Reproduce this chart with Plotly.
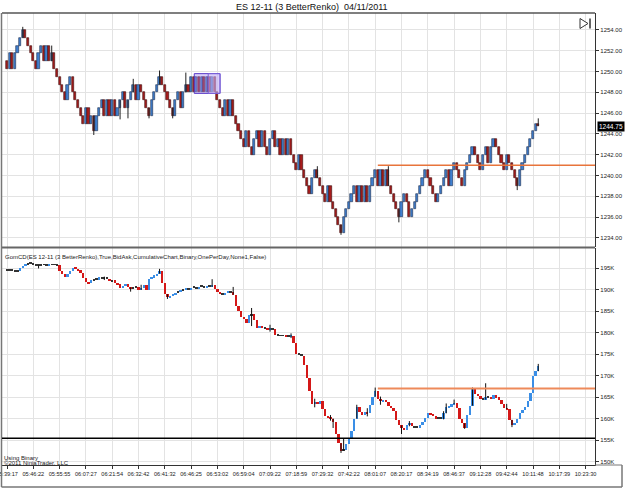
import plotly.graph_objects as go

W, H = 625, 488
FONT = "Liberation Sans, Arial, sans-serif"

# ---------------- data ----------------
time_labels = ["05:39:17", "05:46:22", "05:55:55", "06:07:27", "06:21:54", "06:32:42",
               "06:41:32", "06:46:25", "06:53:02", "06:59:04", "07:09:22", "07:18:59",
               "07:29:32", "07:42:22", "08:01:07", "08:20:17", "08:34:19", "08:46:37",
               "09:12:28", "09:42:44", "10:11:48", "10:17:39", "10:23:30"]
label_bars = [0, 10, 20, 30, 40, 50, 60, 70, 80, 90, 100, 110, 120, 130, 140, 150,
              160, 170, 180, 190, 200, 210, 220]

# ES 12-11 (3 BetterRenko) bar closes (open of each bar = previous close)
top_open0 = 1251.0
top_close = [
    1250.25, 1251.75, 1250.25, 1251.75, 1252.5, 1253.25, 1254.0, 1253.25, 1252.5, 1251.75,
    1251.0, 1250.25, 1251.75, 1252.5, 1251.0, 1252.5, 1251.0, 1251.75, 1250.25, 1249.5,
    1248.75, 1248.0, 1247.25, 1248.75, 1249.5, 1248.0, 1247.25, 1246.5, 1245.75, 1245.0,
    1246.5, 1245.0, 1245.75, 1244.25, 1245.75, 1246.5, 1247.25, 1245.75, 1247.25, 1245.75,
    1247.25, 1245.75, 1246.5, 1247.25, 1248.0, 1246.5, 1247.25, 1248.0, 1248.75, 1247.25,
    1248.75, 1248.0, 1247.25, 1246.5, 1245.75, 1247.25, 1248.0, 1248.75, 1249.5, 1248.75,
    1248.0, 1247.25, 1246.5, 1245.75, 1247.25, 1248.0, 1246.5, 1248.0, 1248.75, 1248.0,
    1249.5, 1248.0, 1249.5, 1248.0, 1249.5, 1248.0, 1249.5, 1248.0, 1249.5, 1248.0,
    1247.25, 1246.5, 1245.75, 1247.25, 1245.75, 1247.25, 1245.75, 1245.0, 1244.25, 1243.5,
    1242.75, 1244.25, 1242.75, 1242.0, 1243.5, 1244.25, 1242.75, 1244.25, 1242.75, 1242.0,
    1243.5, 1244.25, 1242.75, 1243.5, 1242.0, 1243.5, 1242.0, 1243.5, 1242.0, 1241.25,
    1240.5, 1242.0, 1240.5, 1239.75, 1239.0, 1238.25, 1239.75, 1240.5, 1239.75, 1239.0,
    1238.25, 1237.5, 1239.0, 1237.5, 1236.75, 1236.0, 1235.25, 1234.5, 1236.0, 1236.75,
    1237.5, 1238.25, 1239.0, 1237.5, 1239.0, 1237.5, 1239.0, 1237.5, 1239.0, 1239.75,
    1240.5, 1239.0, 1240.5, 1239.0, 1240.5, 1239.0, 1238.25, 1237.5, 1236.75, 1236.0,
    1237.5, 1238.25, 1237.5, 1236.0, 1236.75, 1237.5, 1238.25, 1239.0, 1239.75, 1240.5,
    1239.75, 1239.0, 1238.25, 1237.5, 1238.25, 1239.0, 1239.75, 1240.5, 1239.0, 1240.5,
    1241.25, 1240.5, 1239.75, 1239.0, 1240.5, 1241.25, 1242.0, 1242.75, 1242.0, 1241.25,
    1240.5, 1242.0, 1242.75, 1241.25, 1242.75, 1243.5, 1242.75, 1242.0, 1241.25, 1240.5,
    1242.0, 1241.25, 1240.5, 1239.75, 1239.0, 1240.5, 1241.25, 1242.0, 1242.75, 1243.5,
    1244.25, 1245.0, 1244.75]
top_wick_high = {6: 1254.3, 17: 1252.5, 48: 1249.3, 58: 1250.1, 68: 1249.9,
                 118: 1240.9, 145: 1240.9, 202: 1245.5}
top_wick_low = {33: 1243.9, 43: 1245.4, 46: 1245.5, 54: 1245.5, 63: 1245.5,
                127: 1234.3, 149: 1235.5, 194: 1238.6}

# GomCD cumulative delta closes, in thousands (open of each bar = previous close)
cd_open0 = 194.6
cd_close = [
    194.5, 194.6, 194.4, 194.3, 194.2, 195.0, 195.5, 195.9, 196.1, 196.0,
    195.8, 195.6, 195.5, 195.7, 195.8, 195.6, 195.9, 195.7, 195.8, 195.6,
    194.4, 193.5, 192.8, 193.6, 194.3, 195.1, 194.8, 194.5, 193.9, 192.7,
    191.8, 191.5, 192.2, 192.4, 192.3, 192.8, 192.6, 192.7, 192.5, 191.9,
    192.1, 191.6, 191.2, 190.3, 190.9, 191.2, 190.5, 190.2, 190.4, 190.6,
    190.0, 190.4, 191.0, 189.8, 192.4, 192.9, 193.3, 193.7, 194.2, 191.5,
    188.9, 188.2, 188.6, 188.9, 189.3, 189.5, 189.8, 189.9, 190.3, 190.1,
    190.4, 190.5, 190.3, 190.6, 190.7, 190.5, 190.8, 190.6, 191.0, 190.2,
    189.5, 189.0, 188.8, 189.2, 189.5, 189.4, 188.8, 186.2, 185.0, 183.5,
    183.2, 182.3, 184.0, 184.2, 183.0, 181.0, 181.5, 181.2, 181.0, 180.6,
    180.9, 180.7, 179.5, 179.3, 179.2, 179.4, 179.1, 179.0, 179.3, 177.5,
    175.0, 174.8, 174.6, 172.5, 169.5, 166.5, 163.3, 163.9, 163.6, 164.0,
    162.2, 160.6, 160.3, 160.0, 159.2, 156.5, 154.2, 152.5, 152.7, 154.0,
    155.5, 157.2, 160.0, 162.6, 161.6, 160.9, 161.6, 161.2, 163.2, 165.1,
    166.3, 164.6, 164.0, 164.4, 163.9, 162.8, 162.5, 161.8, 159.7, 158.4,
    157.8, 157.4, 158.4, 158.9, 158.2, 158.0, 157.9, 158.6, 159.1, 160.2,
    161.3, 161.0, 160.6, 160.0, 160.2, 160.0, 161.2, 162.6, 162.9, 163.3,
    163.6, 162.5, 160.0, 158.9, 157.9, 160.8, 163.0, 166.9, 165.8, 165.2,
    164.6, 164.4, 165.1, 165.0, 164.6, 165.4, 165.0, 164.2, 163.3, 162.5,
    162.2, 159.7, 158.4, 159.0, 159.8, 161.3, 162.0, 162.6, 164.0, 165.9,
    169.8, 171.0, 172.3]
cd_wick_high = {37: 193.0, 51: 191.1, 58: 194.8, 78: 192.4, 86: 190.6, 93: 185.7,
                100: 181.8, 108: 179.8, 117: 164.6, 123: 160.8, 128: 155.3, 133: 163.2,
                137: 162.4, 140: 167.2, 142: 165.1, 153: 159.4, 166: 161.7, 167: 163.5,
                170: 164.4, 177: 167.2, 182: 168.2, 190: 163.4, 202: 172.7}
cd_wick_low = {12: 194.9, 37: 192.2, 47: 189.5, 51: 189.9, 61: 187.8, 93: 181.5,
               100: 180.2, 108: 178.7, 117: 162.6, 123: 159.5, 124: 157.8, 127: 152.0,
               137: 160.5, 142: 163.2, 150: 156.4, 153: 158.2, 166: 159.8, 174: 157.6,
               192: 158.0}

top_ticks = [1234, 1236, 1238, 1240, 1242, 1244, 1246, 1248, 1250, 1252, 1254]
cd_ticks = [150, 155, 160, 165, 170, 175, 180, 185, 190, 195]

top_level = 1241.0        # orange horizontal level, price panel
cd_level = 167.0          # orange horizontal level, GomCD panel
cd_base = 155.4           # black horizontal level, GomCD panel
level_start_bar = 141
last_price = 1244.75
box_bars = (71.2, 81.0)
box_prices = (1247.9, 1249.8)


# ---------------- helpers ----------------
def px(x):
    return x / W


def py(y):
    return 1 - y / H


def bodies(open0, closes, min_h):
    opens = [open0] + closes[:-1]
    base = [min(o, c) for o, c in zip(opens, closes)]
    hgt = [max(abs(c - o), min_h) for o, c in zip(opens, closes)]
    return opens, base, hgt


def wick_xy(opens, closes, hi, lo):
    xs, ys = [], []
    for i, (o, c) in enumerate(zip(opens, closes)):
        if i in hi or i in lo:
            xs += [i, i, None]
            ys += [lo.get(i, min(o, c)), hi.get(i, max(o, c)), None]
    return xs, ys


idx = list(range(len(top_close)))

t_open, t_base, t_h = bodies(top_open0, top_close, 0.2)
t_fill = ["#3f7fcf" if c > o else "#a81c1c" for o, c in zip(t_open, top_close)]
t_edge = ["#1b2b4b" if c > o else "#3b0b0b" for o, c in zip(t_open, top_close)]

c_open, c_base, c_h = bodies(cd_open0, cd_close, 0.22)
c_fill = []
for o, c in zip(c_open, cd_close):
    if abs(c - o) < 0.25:
        c_fill.append("#333333")
    elif c > o:
        c_fill.append("#3a8ee6")
    else:
        c_fill.append("#d41818")

fig = go.Figure()

wx, wy = wick_xy(t_open, top_close, top_wick_high, top_wick_low)
fig.add_trace(go.Scatter(x=wx, y=wy, mode="lines", xaxis="x2", yaxis="y",
                         line=dict(color="#222222", width=1), hoverinfo="skip"))
fig.add_trace(go.Bar(x=idx, y=t_h, base=t_base, xaxis="x2", yaxis="y", width=0.82,
                     marker=dict(color=t_fill, line=dict(color=t_edge, width=0.6))))

wx2, wy2 = wick_xy(c_open, cd_close, cd_wick_high, cd_wick_low)
fig.add_trace(go.Scatter(x=wx2, y=wy2, mode="lines", xaxis="x", yaxis="y2",
                         line=dict(color="#111111", width=1), hoverinfo="skip"))
fig.add_trace(go.Bar(x=idx, y=c_h, base=c_base, xaxis="x", yaxis="y2", width=0.9,
                     marker=dict(color=c_fill, line=dict(width=0))))

grid = "#e3e3e3"
xfont = dict(family=FONT, size=5.6, color="#222222")
yfont = dict(family=FONT, size=6, color="#222222")
xr = [(2 - 7) / 2.63, (595 - 7) / 2.63]

fig.update_layout(
    width=W, height=H, autosize=False,
    margin=dict(l=0, r=0, t=0, b=0, pad=0, autoexpand=False),
    paper_bgcolor="white", plot_bgcolor="white",
    showlegend=False, bargap=0,
    xaxis=dict(domain=[px(2), px(595)], range=xr, anchor="y2", automargin=False,
               tickvals=label_bars, ticktext=time_labels, tickangle=0,
               ticklabeloverflow="allow",
               tickfont=xfont, ticks="outside", ticklen=3, tickcolor="#333",
               showgrid=True, gridcolor=grid, gridwidth=1, zeroline=False,
               showline=True, linecolor="#333", linewidth=1),
    xaxis2=dict(domain=[px(2), px(595)], range=xr, anchor="y", matches="x",
                automargin=False,
                tickvals=label_bars, showticklabels=False, ticks="",
                showgrid=True, gridcolor=grid, gridwidth=1, zeroline=False,
                showline=False),
    yaxis=dict(domain=[py(247), py(13)], range=[1233.13, 1255.63], anchor="x2",
               automargin=False,
               side="right", tickvals=top_ticks,
               ticktext=[f"{v:.2f}" for v in top_ticks], tickfont=yfont,
               ticks="outside", ticklen=3, tickcolor="#333",
               showgrid=True, gridcolor=grid, zeroline=False,
               showline=True, linecolor="#333", linewidth=1.2),
    yaxis2=dict(domain=[py(465), py(248)], range=[149.19, 199.65], anchor="x",
                automargin=False,
                side="right", tickvals=cd_ticks,
                ticktext=[f"{v}K" for v in cd_ticks], tickfont=yfont,
                ticks="outside", ticklen=3, tickcolor="#333",
                showgrid=True, gridcolor=grid, zeroline=False,
                showline=True, linecolor="#333", linewidth=1.2),
)

shapes = []
# frame lines
shapes.append(dict(type="line", xref="paper", yref="paper", x0=px(2), x1=px(595),
                   y0=py(13), y1=py(13), line=dict(color="#555", width=1.5)))
shapes.append(dict(type="line", xref="paper", yref="paper", x0=px(2), x1=px(595),
                   y0=py(247.5), y1=py(247.5), line=dict(color="#666", width=2)))
shapes.append(dict(type="line", xref="paper", yref="paper", x0=px(1.5), x1=px(1.5),
                   y0=py(13), y1=py(487), line=dict(color="#777", width=1.5)))
shapes.append(dict(type="line", xref="paper", yref="paper", x0=px(1.5), x1=px(622),
                   y0=py(487), y1=py(487), line=dict(color="#777", width=1.5)))
shapes.append(dict(type="line", xref="paper", yref="paper", x0=px(595), x1=px(622),
                   y0=py(465), y1=py(465), line=dict(color="#777", width=1)))
shapes.append(dict(type="line", xref="paper", yref="paper", x0=px(622), x1=px(622),
                   y0=py(465), y1=py(487), line=dict(color="#777", width=1.5)))
# "scroll to end" icon
shapes.append(dict(type="path", xref="paper", yref="paper",
                   path=f"M {px(580)},{py(18.5)} L {px(588)},{py(23.5)} L {px(580)},{py(28.5)} Z",
                   line=dict(color="#333", width=1), fillcolor="white"))
shapes.append(dict(type="line", xref="paper", yref="paper", x0=px(590), x1=px(590),
                   y0=py(18.5), y1=py(28.5), line=dict(color="#333", width=1.5)))
# purple highlight box
shapes.append(dict(type="rect", xref="x2", yref="y", x0=box_bars[0], x1=box_bars[1],
                   y0=box_prices[0], y1=box_prices[1], layer="above",
                   fillcolor="rgba(160,130,240,0.4)", line=dict(color="#5a3cc8", width=1)))
shapes.append(dict(type="rect", xref="x2", yref="y", x0=box_bars[1] - 4.5, x1=box_bars[1],
                   y0=box_prices[0], y1=box_prices[1], layer="above",
                   fillcolor="rgba(220,210,255,0.35)", line=dict(color="#7a60d8", width=1)))
# horizontal levels
shapes.append(dict(type="line", xref="x2", yref="y", x0=level_start_bar, x1=xr[1],
                   y0=top_level, y1=top_level, line=dict(color="#e8743b", width=1.5)))
shapes.append(dict(type="line", xref="x", yref="y2", x0=level_start_bar, x1=xr[1],
                   y0=cd_level, y1=cd_level, line=dict(color="#ee8a5a", width=2)))
shapes.append(dict(type="line", xref="x", yref="y2", x0=xr[0], x1=xr[1],
                   y0=cd_base, y1=cd_base, line=dict(color="#000000", width=1.5)))
fig.update_layout(shapes=shapes)

ann = []
ann.append(dict(xref="paper", yref="paper", x=px(312), y=py(7), showarrow=False,
                text="ES 12-11 (3 BetterRenko)\u00a0\u00a004/11/2011",
                font=dict(family=FONT, size=9, color="#111"),
                xanchor="center", yanchor="middle"))
ann.append(dict(xref="paper", yref="paper", x=px(3), y=py(257), showarrow=False,
                text="GomCD(ES 12-11 (3 BetterRenko),True,BidAsk,CumulativeChart,Binary,OnePerDay,None1,False)",
                font=dict(family=FONT, size=6, color="#222"),
                xanchor="left", yanchor="middle"))
ann.append(dict(xref="paper", yref="paper", x=px(2), y=py(457.5), showarrow=False,
                text="Using Binary", font=dict(family=FONT, size=6, color="#222"),
                xanchor="left", yanchor="middle"))
ann.append(dict(xref="paper", yref="paper", x=px(2), y=py(462.5), showarrow=False,
                text="\u00a92011 NinjaTrader, LLC", font=dict(family=FONT, size=6, color="#222"),
                xanchor="left", yanchor="middle"))
ann.append(dict(xref="paper", yref="y", x=px(597), y=last_price, showarrow=False,
                text=f"{last_price:.2f}", bgcolor="#000000", borderpad=1,
                font=dict(family=FONT, size=6.5, color="white"),
                xanchor="left", yanchor="middle"))
fig.update_layout(annotations=ann)

fig.write_html("out.html")
